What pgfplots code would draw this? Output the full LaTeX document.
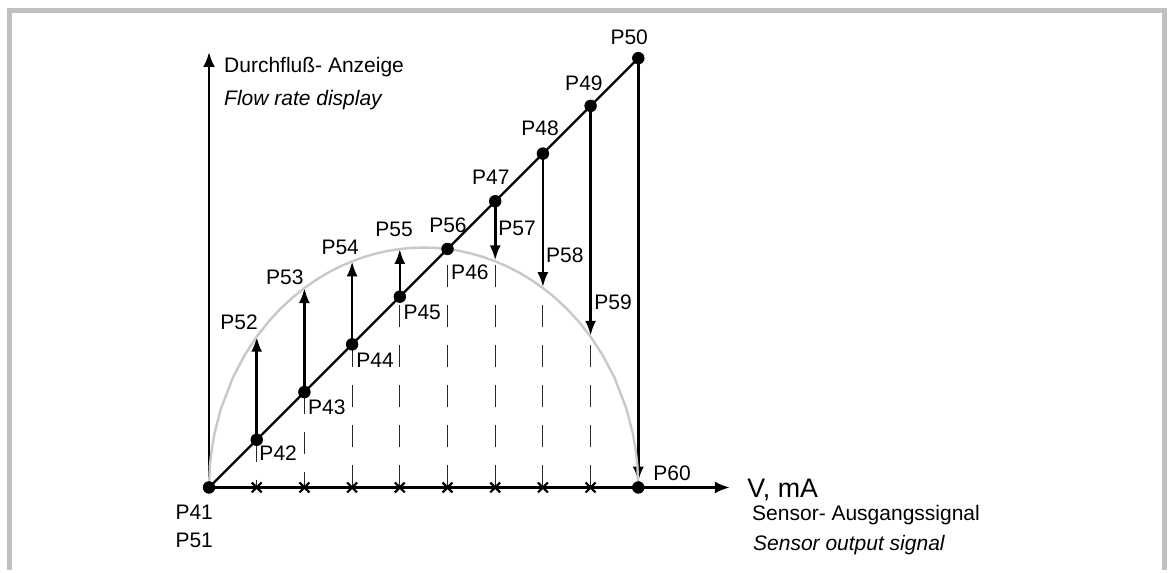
\documentclass[border=0pt]{standalone}
\usepackage{fontspec}
\setmainfont{Liberation Sans}
\usepackage{pgfplots}
\pgfplotsset{compat=1.18}
\usetikzlibrary{arrows.meta}
\definecolor{framegray}{RGB}{192,192,192}
\definecolor{curvegray}{RGB}{200,200,200}

\begin{document}
\begin{tikzpicture}[
  lbl/.style={font=\fontsize{10.5}{12}\selectfont, inner sep=0pt},
  tip/.style={-{Latex[length=7.5pt,width=5.5pt]}},
]
\begin{axis}[
  x=23.85pt, y=23.85pt,
  xmin=0, xmax=10.92, ymin=0, ymax=9.13,
  axis lines=middle, enlargelimits=false,
  ticks=none, clip=false,
  axis line style={line width=1.4pt, -{Latex[length=7.5pt,width=6pt]}},
]
% frame and picture size
\path (axis cs:-4.382,-1.730) rectangle (axis cs:20.147,10.22);
\draw[framegray, line width=2.5pt] (axis cs:-4.18,-1.73) -- (axis cs:-4.18,10.01)
  -- (axis cs:20.04,10.01) -- (axis cs:20.04,-1.73);

% dashed helper lines
\addplot[line width=0.55pt, black!85, dash pattern=on 11pt off 9pt] coordinates {(1,1) (1,0)};
\addplot[line width=0.55pt, black!85, dash pattern=on 11pt off 9pt] coordinates {(2,2) (2,0)};
\addplot[line width=0.55pt, black!85, dash pattern=on 11pt off 9pt] coordinates {(3,0) (3,3)};
\addplot[line width=0.55pt, black!85, dash pattern=on 11pt off 9pt] coordinates {(4,0) (4,4)};
\addplot[line width=0.55pt, black!85, dash pattern=on 11pt off 9pt] coordinates {(5,0) (5,4.9)};
\addplot[line width=0.55pt, black!85, dash pattern=on 11pt off 9pt] coordinates {(6,0) (6,4.74)};
\addplot[line width=0.55pt, black!85, dash pattern=on 11pt off 9pt] coordinates {(7,0) (7,4.18)};
\addplot[line width=0.55pt, black!85, dash pattern=on 11pt off 9pt] coordinates {(8,0) (8,3.16)};

% diagonal
\addplot[line width=1.15pt, black] coordinates {(0,0) (9,9)};

% correction arrows
\addplot[line width=1.3pt, tip] coordinates {(1,1) (1,3.16)};
\addplot[line width=1.3pt, tip] coordinates {(2,2) (2,4.18)};
\addplot[line width=1.3pt, tip] coordinates {(3,3) (3,4.74)};
\addplot[line width=1.3pt, tip] coordinates {(4,4) (4,5.0)};
\addplot[line width=1.3pt, tip] coordinates {(6,6) (6,4.76)};
\addplot[line width=1.3pt, tip] coordinates {(7,7) (7,4.2)};
\addplot[line width=1.3pt, tip] coordinates {(8,8) (8,3.18)};
\addplot[line width=1.3pt, tip] coordinates {(9,9) (9,0.12)};

% ticks on the signal axis
\addplot[only marks, mark=x, mark size=3.5pt, mark options={line width=1.1pt}]
  coordinates {(1,0) (2,0) (3,0) (4,0) (5,0) (6,0) (7,0) (8,0)};

% points
\addplot[only marks, mark=*, mark size=2.9pt]
  coordinates {(0,0) (1,1) (2,2) (3,3) (4,4) (5,5) (6,6) (7,7) (8,8) (9,9) (9,0)};

% characteristic curve
\addplot[curvegray, line width=1.2pt] coordinates {
  (0,0) (0.02,0.474) (0.06,0.819) (0.12,1.154) (0.25,1.653) (0.5,2.304)
  (0.75,2.780) (1,3.162) (1.25,3.479) (1.5,3.749) (1.75,3.981) (2,4.182)
  (2.25,4.356) (2.5,4.506) (2.75,4.634) (3,4.742) (3.25,4.832) (3.5,4.904)
  (3.75,4.960) (4,4.999) (4.25,5.022) (4.5,5.030) (4.75,5.022) (5,4.999)
  (5.25,4.960) (5.5,4.904) (5.75,4.832) (6,4.742) (6.25,4.634) (6.5,4.506)
  (6.75,4.356) (7,4.182) (7.25,3.981) (7.5,3.749) (7.75,3.479) (8,3.162)
  (8.25,2.780) (8.5,2.304) (8.75,1.653) (8.88,1.154) (8.94,0.819)
  (8.98,0.474) (9,0)
};

% labels
\node[lbl] at (axis cs:8.81,9.44) {P50};
\node[lbl] at (axis cs:7.86,8.48) {P49};
\node[lbl] at (axis cs:6.94,7.54) {P48};
\node[lbl] at (axis cs:5.91,6.51) {P47};
\node[lbl] at (axis cs:5.01,5.50) {P56};
\node[lbl] at (axis cs:3.88,5.42) {P55};
\node[lbl] at (axis cs:2.75,5.04) {P54};
\node[lbl] at (axis cs:1.59,4.41) {P53};
\node[lbl] at (axis cs:0.63,3.47) {P52};
\node[lbl] at (axis cs:6.46,5.44) {P57};
\node[lbl] at (axis cs:7.46,4.87) {P58};
\node[lbl] at (axis cs:8.47,3.89) {P59};
\node[lbl] at (axis cs:5.47,4.52) {P46};
\node[lbl] at (axis cs:4.47,3.68) {P45};
\node[lbl] at (axis cs:3.48,2.67) {P44};
\node[lbl] at (axis cs:2.47,1.69) {P43};
\node[lbl] at (axis cs:1.45,0.72) {P42};
\node[lbl] at (axis cs:9.71,0.30) {P60};
\node[lbl] at (axis cs:-0.31,-0.53) {P41};
\node[lbl] at (axis cs:-0.31,-1.10) {P51};
\node[lbl, anchor=base west] at (axis cs:0.31,8.70) {Durchfluß- Anzeige};
\node[lbl, anchor=base west] at (axis cs:0.31,8.01) {\itshape Flow rate display};
\node[lbl, anchor=base west, font=\fontsize{13.4}{15}\selectfont] at (axis cs:11.28,-0.22) {V, mA};
\node[lbl, anchor=base west] at (axis cs:11.38,-0.69) {Sensor- Ausgangssignal};
\node[lbl, anchor=base west] at (axis cs:11.40,-1.32) {\itshape Sensor output signal};
\end{axis}
\end{tikzpicture}
\end{document}
